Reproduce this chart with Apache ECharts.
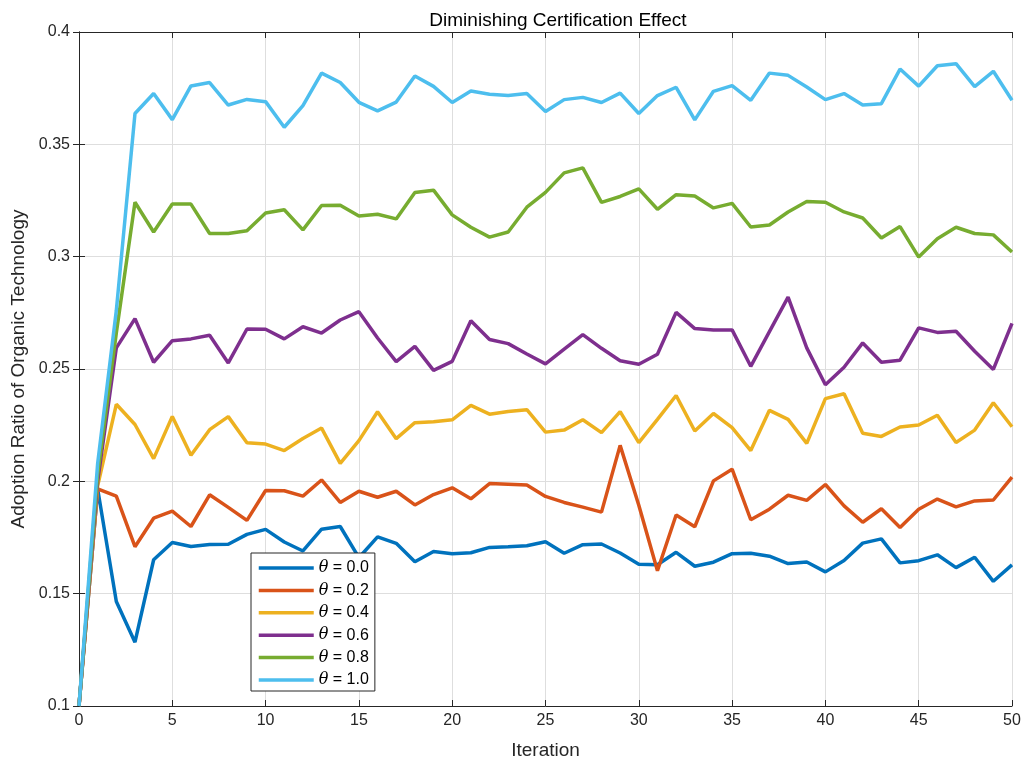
<!DOCTYPE html>
<html>
<head>
<meta charset="utf-8">
<title>Diminishing Certification Effect</title>
<script src="https://cdn.jsdelivr.net/npm/echarts@6/dist/echarts.min.js"></script>
<style>
  html, body { margin: 0; padding: 0; background: #fff; }
  #chart { width: 1031px; height: 770px; }
</style>
</head>
<body>
<div id="chart"></div>
<script>
// iterations 0..50
const iterations = Array.from({ length: 51 }, (_, i) => i);

const thetaLabels = ['0.0', '0.2', '0.4', '0.6', '0.8', '1.0'];

// adoption ratio per theta
const theta00 = [0.1, 0.1966, 0.1465, 0.1284, 0.1651, 0.1728, 0.171, 0.1719, 0.172, 0.1764, 0.1786,
  0.173, 0.169, 0.1787, 0.1799, 0.166, 0.1753, 0.1724, 0.1642, 0.1688, 0.1678,
  0.1682, 0.1706, 0.1709, 0.1713, 0.1731, 0.168, 0.1718, 0.1721, 0.1681, 0.1631,
  0.1629, 0.1684, 0.1622, 0.164, 0.1678, 0.168, 0.1667, 0.1634, 0.1641, 0.1597,
  0.1648, 0.1725, 0.1744, 0.1637, 0.1647, 0.1673, 0.1616, 0.1662, 0.1555, 0.1628];
const theta02 = [0.1, 0.1966, 0.1934, 0.1709, 0.1836, 0.1867, 0.1799, 0.194, 0.1884, 0.1826, 0.1959,
  0.1958, 0.1934, 0.2006, 0.1906, 0.1956, 0.1929, 0.1956, 0.1895, 0.1941, 0.1971,
  0.1922, 0.199, 0.1987, 0.1984, 0.1933, 0.1906, 0.1885, 0.1863, 0.216, 0.1894,
  0.1602, 0.185, 0.1798, 0.2002, 0.2054, 0.1829, 0.1876, 0.1938, 0.1915, 0.1986,
  0.1891, 0.1818, 0.1878, 0.1795, 0.1876, 0.1921, 0.1886, 0.1913, 0.1917, 0.2019];
const theta04 = [0.1, 0.198, 0.2343, 0.2253, 0.2101, 0.2289, 0.2116, 0.223, 0.2288, 0.2172, 0.2166,
  0.2137, 0.2191, 0.2237, 0.208, 0.2181, 0.231, 0.219, 0.2261, 0.2265, 0.2274,
  0.2338, 0.2299, 0.2311, 0.2319, 0.2219, 0.2228, 0.2274, 0.2217, 0.231, 0.2172,
  0.2276, 0.2382, 0.2224, 0.2302, 0.2239, 0.2137, 0.2316, 0.2276, 0.2169, 0.2368,
  0.239, 0.2214, 0.22, 0.2242, 0.2251, 0.2294, 0.2173, 0.2228, 0.235, 0.2243];
const theta06 = [0.1, 0.2, 0.2594, 0.2724, 0.253, 0.2626, 0.2634, 0.265, 0.2527, 0.2678, 0.2677,
  0.2634, 0.2688, 0.266, 0.2718, 0.2755, 0.2638, 0.2533, 0.2601, 0.2494, 0.2534,
  0.2715, 0.2631, 0.2613, 0.2567, 0.2523, 0.2588, 0.2653, 0.2592, 0.2537, 0.2521,
  0.2566, 0.2752, 0.268, 0.2674, 0.2674, 0.2512, 0.2666, 0.282, 0.2594, 0.243,
  0.2508, 0.2616, 0.253, 0.2539, 0.2683, 0.2663, 0.2668, 0.2579, 0.2498, 0.2703];
const theta08 = [0.1, 0.203, 0.266, 0.3242, 0.311, 0.3234, 0.3234, 0.3103, 0.3103, 0.3115, 0.3194,
  0.3209, 0.3119, 0.3228, 0.3229, 0.3181, 0.3189, 0.3168, 0.3286, 0.3296, 0.3186,
  0.3131, 0.3087, 0.311, 0.322, 0.3286, 0.3373, 0.3395, 0.3242, 0.3268, 0.3302,
  0.3211, 0.3276, 0.327, 0.3217, 0.3237, 0.3132, 0.3141, 0.3199, 0.3246, 0.3242,
  0.3199, 0.3172, 0.3083, 0.3134, 0.2998, 0.308, 0.3131, 0.3103, 0.3097, 0.3021];
const theta10 = [0.1, 0.208, 0.276, 0.3637, 0.3726, 0.361, 0.376, 0.3775, 0.3675, 0.37, 0.369,
  0.3576, 0.3672, 0.3817, 0.3775, 0.3687, 0.3649, 0.3688, 0.3804, 0.3758, 0.3686,
  0.3737, 0.3723, 0.3717, 0.3726, 0.3646, 0.3699, 0.3709, 0.3686, 0.3728, 0.3637,
  0.3717, 0.3754, 0.3609, 0.3736, 0.3761, 0.3696, 0.3817, 0.3807, 0.3755, 0.3699,
  0.3726, 0.3675, 0.3681, 0.3835, 0.3759, 0.385, 0.3859, 0.3757, 0.3825, 0.3696];

const allSeries = [theta00, theta02, theta04, theta06, theta08, theta10];
// MATLAB default line colours
const colors = ['#0072BD', '#D95319', '#EDB120', '#7E2F8E', '#77AC30', '#4DBEEE'];

const FONT = 'Liberation Sans, Arial, Helvetica, sans-serif';
const AXIS_COLOR = '#262626';
const LINE_W = 3.5;

const chart = echarts.init(document.getElementById('chart'), null, { renderer: 'canvas' });

const boxAxis = {
  axisLine: { show: true, lineStyle: { color: AXIS_COLOR, width: 1 } },
  axisTick: { show: true, inside: true, length: 6, lineStyle: { color: AXIS_COLOR } },
  axisLabel: { show: false },
  splitLine: { show: false },
};

const option = {
  animation: false,
  backgroundColor: '#fff',
  color: colors,
  title: {
    text: 'Diminishing Certification Effect',
    left: 553,
    textAlign: 'center',
    top: 6,
    textStyle: { fontFamily: FONT, fontSize: 19, fontWeight: 'normal', color: '#000' },
  },
  grid: { left: 79, right: 19, top: 32, bottom: 64 },
  legend: {
    orient: 'vertical',
    left: 251,
    top: 553,
    padding: [7, 6, 3, 6],
    itemWidth: 55,
    itemHeight: 14,
    itemGap: 6.4,
    backgroundColor: '#fff',
    borderColor: AXIS_COLOR,
    borderWidth: 1,
    borderRadius: 0,
    itemStyle: { opacity: 0 },
    lineStyle: { width: LINE_W },
    formatter: (name) => '{t|θ} = ' + name,
    textStyle: {
      fontFamily: FONT,
      fontSize: 16,
      color: '#000',
      rich: {
        t: { fontFamily: 'DejaVu Serif, serif', fontStyle: 'italic', fontSize: 16, color: '#000' },
      },
    },
    data: thetaLabels,
  },
  xAxis: [
    {
      type: 'value',
      min: 0,
      max: 50,
      interval: 5,
      name: 'Iteration',
      nameLocation: 'middle',
      nameGap: 35,
      nameTextStyle: { fontFamily: FONT, fontSize: 19, color: AXIS_COLOR },
      axisLine: { show: true, onZero: false, lineStyle: { color: AXIS_COLOR, width: 1 } },
      axisTick: { show: true, inside: true, length: 6, lineStyle: { color: AXIS_COLOR } },
      axisLabel: { fontFamily: FONT, fontSize: 16, color: AXIS_COLOR, margin: 7 },
      splitLine: { show: true, lineStyle: { color: '#dedede', width: 1 } },
    },
    Object.assign({ type: 'value', position: 'top', min: 0, max: 50, interval: 5 }, boxAxis),
  ],
  yAxis: [
    {
      type: 'value',
      min: 0.1,
      max: 0.4,
      interval: 0.05,
      name: 'Adoption Ratio of Organic Technology',
      nameLocation: 'middle',
      nameGap: 47,
      nameTextStyle: { fontFamily: FONT, fontSize: 19, color: AXIS_COLOR },
      axisLine: { show: true, onZero: false, lineStyle: { color: AXIS_COLOR, width: 1 } },
      axisTick: { show: true, inside: true, length: 6, lineStyle: { color: AXIS_COLOR } },
      axisLabel: { fontFamily: FONT, fontSize: 16, color: AXIS_COLOR, margin: 9 },
      splitLine: { show: true, lineStyle: { color: '#dedede', width: 1 } },
    },
    Object.assign({ type: 'value', position: 'right', min: 0.1, max: 0.4, interval: 0.05 }, boxAxis),
  ],
  series: allSeries.map((vals, k) => ({
    name: thetaLabels[k],
    type: 'line',
    symbol: 'none',
    lineStyle: { width: LINE_W, color: colors[k] },
    itemStyle: { color: colors[k] },
    data: iterations.map((it, i) => [it, vals[i]]),
  })),
};

chart.setOption(option);
</script>
</body>
</html>
